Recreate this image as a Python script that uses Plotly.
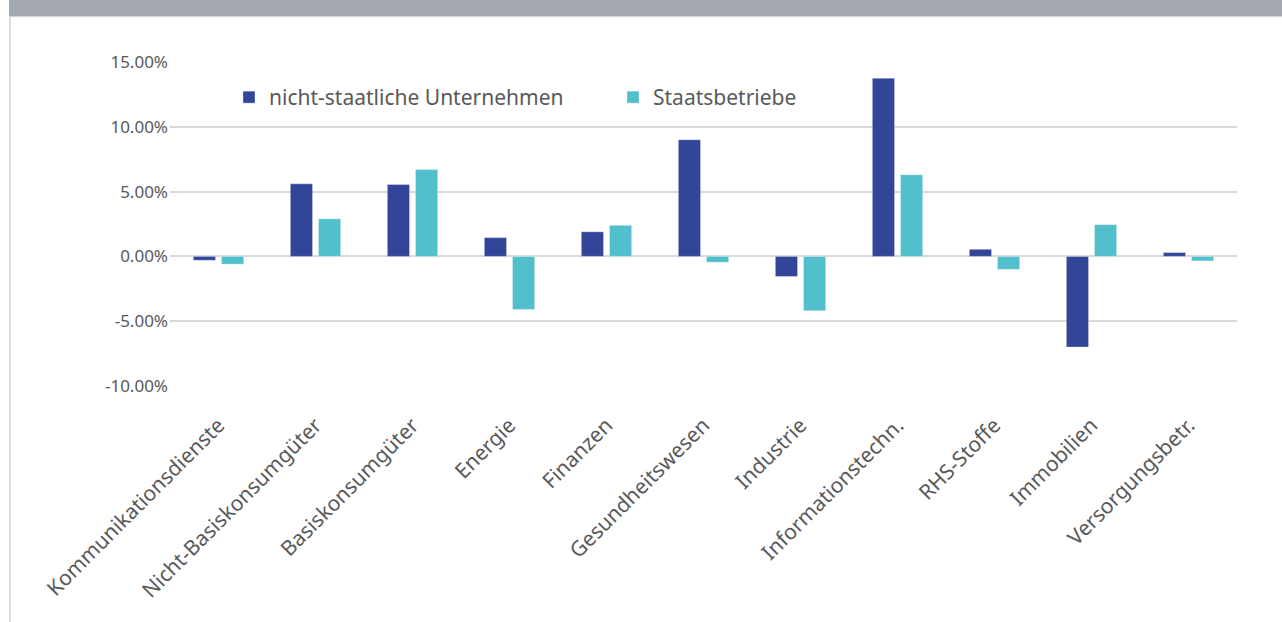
import plotly.graph_objects as go

categories = ["Kommunikationsdienste", "Nicht-Basiskonsumgüter", "Basiskonsumgüter", "Energie",
              "Finanzen", "Gesundheitswesen", "Industrie", "Informationstechn.", "RHS-Stoffe",
              "Immobilien", "Versorgungsbetr."]
nicht_staatlich = [-0.30, 5.60, 5.55, 1.45, 1.90, 9.00, -1.55, 13.75, 0.55, -7.00, 0.30]
staatsbetriebe = [-0.60, 2.90, 6.70, -4.10, 2.40, -0.45, -4.20, 6.30, -1.00, 2.45, -0.35]
series_names = ["nicht-staatliche Unternehmen", "Staatsbetriebe"]
y_ticks = [-10, -5, 0, 5, 10, 15]
y_tick_labels = ["-10.00%", "-5.00%", "0.00%", "5.00%", "10.00%", "15.00%"]

FONT = "Source Sans Pro, Noto Sans, sans-serif"
TXT = "#595959"

fig = go.Figure()
fig.add_trace(go.Bar(x=categories, y=nicht_staatlich, name=series_names[0],
                     marker=dict(color="#334599", line=dict(color="rgba(255,255,255,0.35)", width=1))))
fig.add_trace(go.Bar(x=categories, y=staatsbetriebe, name=series_names[1],
                     marker=dict(color="#52BFCC", line=dict(color="rgba(255,255,255,0.35)", width=1))))

W, H = 1282, 622
ml, mr, mt, mb = 170, 45, 62, 236
pw, ph = W - ml - mr, H - mt - mb

def px_to_paper_x(px):
    return (px - ml) / pw

def px_to_paper_y(py):
    return (H - mb - py) / ph

shapes = [
    # grey header band
    dict(type="rect", xref="paper", yref="paper",
         x0=px_to_paper_x(9), x1=px_to_paper_x(1284), y0=px_to_paper_y(16.5), y1=px_to_paper_y(-2),
         fillcolor="#A4A9B1", line=dict(width=0), layer="below"),
    # left frame line
    dict(type="line", xref="paper", yref="paper",
         x0=px_to_paper_x(10), x1=px_to_paper_x(10), y0=px_to_paper_y(17), y1=px_to_paper_y(624),
         line=dict(color="#DADCDE", width=2), layer="below"),
]

fig.update_layout(
    width=W, height=H,
    margin=dict(l=ml, r=mr, t=mt, b=mb, pad=0),
    paper_bgcolor="white", plot_bgcolor="white",
    font=dict(family=FONT, color=TXT, size=19),
    barmode="group", bargap=0.42, bargroupgap=0.21,
    showlegend=True,
    legend=dict(orientation="h", x=px_to_paper_x(229), xanchor="left",
                y=px_to_paper_y(77), yanchor="top",
                font=dict(family=FONT, size=21, color=TXT),
                entrywidth=339, entrywidthmode="pixels",
                itemwidth=30, bgcolor="rgba(0,0,0,0)", traceorder="normal"),
    shapes=shapes,
    xaxis=dict(tickangle=-45, showgrid=False, showline=False, ticks="",
               ticklabelstandoff=22,
               tickfont=dict(family=FONT, size=21, color=TXT), zeroline=False),
    yaxis=dict(range=[-10, 15], tickvals=y_ticks, ticktext=y_tick_labels,
               showgrid=True, gridcolor="#D9D9D9", gridwidth=1.5, zeroline=True,
               zerolinecolor="#D9D9D9", zerolinewidth=1.5, showline=False, ticks="",
               ticklabelstandoff=1,
               tickfont=dict(family=FONT, size=17, color=TXT)),
)

fig.write_html("out.html", config={"displayModeBar": False},
               post_script="document.body.style.margin='0';document.body.style.padding='0';")
